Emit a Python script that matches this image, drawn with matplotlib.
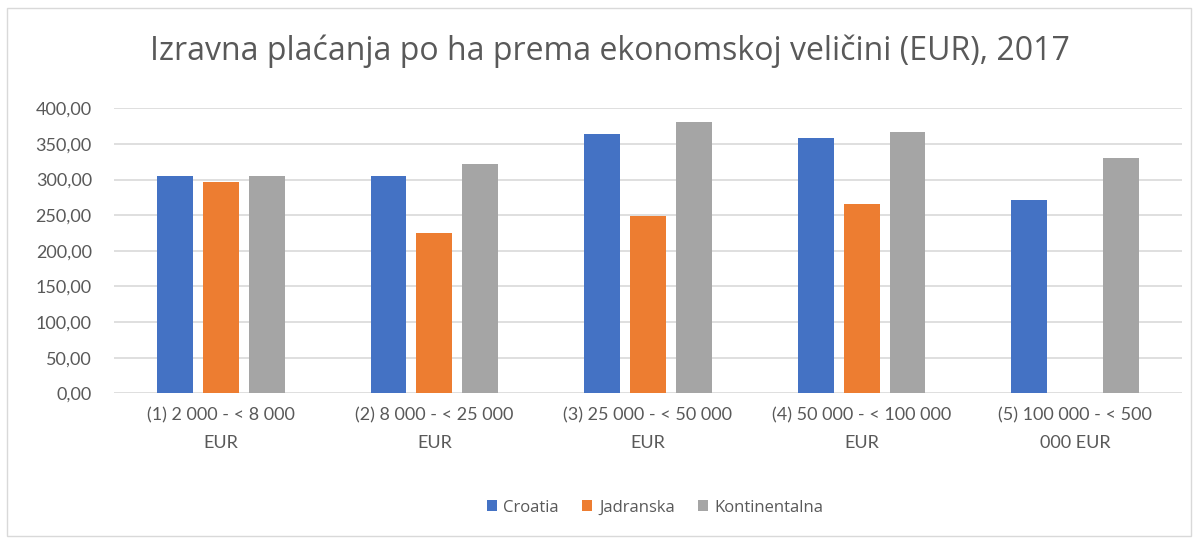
import matplotlib.pyplot as plt
import numpy as np
from matplotlib.patches import Rectangle

categories = ["(1) 2 000 - < 8 000\nEUR", "(2) 8 000 - < 25 000\nEUR",
              "(3) 25 000 - < 50 000\nEUR", "(4) 50 000 - < 100 000\nEUR",
              "(5) 100 000 - < 500\n000 EUR"]
series_names = ["Croatia", "Jadranska", "Kontinentalna"]
croatia = [304.6, 304.6, 363.9, 358.3, 271.3]
jadranska = [297.0, 225.4, 248.8, 265.2, np.nan]
kontinentalna = [304.6, 321.8, 380.8, 366.7, 329.8]
yticks = [0, 50, 100, 150, 200, 250, 300, 350, 400]
colours = ["#4472C4", "#ED7D31", "#A5A5A5"]

plt.rcParams['font.family'] = ['Lato', 'DejaVu Sans']
text_col = "#595959"

fig = plt.figure(figsize=(11.98, 5.4), dpi=100)
fig.patches.append(Rectangle((0.006, 0.008), 0.988, 0.978, transform=fig.transFigure,
                             fill=False, edgecolor="#D9D9D9", linewidth=1))
ax = fig.add_axes([0.0952, 0.2717, 0.8914, 0.5277])

x = np.arange(len(categories))
offset = 0.215
width = 0.168
for i, (vals, name, c) in enumerate(zip([croatia, jadranska, kontinentalna], series_names, colours)):
    ax.bar(x + (i - 1) * offset, vals, width, color=c, label=name, zorder=3)

ax.set_xlim(-0.5, len(categories) - 0.5)
ax.set_ylim(0, 400)
ax.set_yticks(yticks)
ax.set_yticklabels([f"{v:.2f}".replace(".", ",") for v in yticks])
ax.set_xticks(x)
ax.set_xticklabels(categories, linespacing=1.9)
ax.tick_params(length=0, labelsize=13, colors=text_col)
ax.tick_params(axis='y', pad=16)
ax.tick_params(axis='x', pad=10)
ax.grid(axis='y', color="#D9D9D9", linewidth=1.2, zorder=0)
for s in ax.spines.values():
    s.set_visible(False)

fig.text(0.509, 0.905, "Izravna plaćanja po ha prema ekonomskoj veličini (EUR), 2017",
         ha='center', va='center', fontsize=23, color=text_col,
         family=['Open Sans', 'DejaVu Sans'])
fig.legend(loc='center', bbox_to_anchor=(0.547, 0.06), ncol=3, frameon=False,
           prop={'family': 'Open Sans', 'size': 12}, labelcolor=text_col,
           handlelength=0.6, handleheight=0.6, handletextpad=0.4, columnspacing=1.4)

fig.savefig("out.png", dpi=100)
